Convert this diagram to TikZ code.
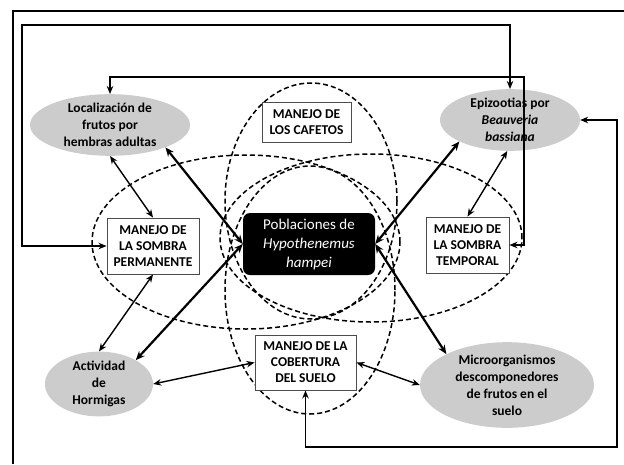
\documentclass[tikz,border=0pt]{standalone}
\usepackage{fontspec}
\setmainfont{Carlito}
\usetikzlibrary{shapes.geometric,arrows.meta}
\begin{document}
\begin{tikzpicture}[x=1pt,y=-1pt,
  dashring/.style={draw, dash pattern=on 5pt off 3pt, line width=1.5pt},
  factor/.style={ellipse, fill=black!20, inner sep=0pt, align=center, font=\fontsize{13.5}{17}\selectfont\bfseries},
  mgmt/.style={rectangle, draw=black!70, line width=0.9pt, fill=white, align=center, inner sep=0pt, font=\fontsize{13.5}{16}\selectfont\bfseries},
  linkthin/.style={{Stealth[length=8pt,width=6.5pt]}-{Stealth[length=8pt,width=6.5pt]}, line width=1.4pt},
  linkthick/.style={{Stealth[length=9pt,width=7.5pt]}-{Stealth[length=9pt,width=7.5pt]}, line width=2.2pt},
  frameline/.style={line width=2pt}
]
\useasboundingbox (0,0) rectangle (624,464);
\fill[white] (0,0) rectangle (624,464);
% frame (cropped)
\coordinate (f1) at (13,464);
\coordinate (f2) at (13,11);
\coordinate (f3) at (624,11);
\draw[frameline] (f1) -- (f2) -- (f3);

% dashed ellipses
\draw[dashring] (311,201) ellipse [x radius=86pt, y radius=118pt];
\draw[dashring] (310,290) ellipse [x radius=85pt, y radius=124pt];
\draw[dashring] (246,242) ellipse [x radius=154pt, y radius=87pt];
\draw[dashring] (371,238) ellipse [x radius=151pt, y radius=84pt];

% factor ellipses
\node[factor, minimum width=160pt, minimum height=60pt] (loc) at (110,125) {Localización de\\frutos por\\hembras adultas};
\node[factor, minimum width=140pt, minimum height=56pt] (epi) at (510,120) {Epizootias por\\\textit{Beauveria}\\\textit{bassiana}};
\node[factor, minimum width=108pt, minimum height=64pt] (act) at (99,384) {Actividad\\de\\Hormigas};
\node[factor, minimum width=174pt, minimum height=82pt] (mic) at (507,385) {Microorganismos\\descomponedores\\de frutos en el\\suelo};

% management boxes
\node[mgmt, minimum width=89pt, minimum height=40pt] (caf) at (306.5,122) {MANEJO DE\\LOS CAFETOS};
\node[mgmt, minimum width=92pt, minimum height=56pt] (sp) at (153,246) {MANEJO DE\\LA SOMBRA\\PERMANENTE};
\node[mgmt, minimum width=83pt, minimum height=56pt] (st) at (467.5,245) {MANEJO DE\\LA SOMBRA\\TEMPORAL};
\node[mgmt, minimum width=101pt, minimum height=55pt] (cob) at (305.5,362.5) {MANEJO DE LA\\COBERTURA\\DEL SUELO};

% central population box
\node[rectangle, rounded corners=7pt, fill=black, text=white, align=center, inner sep=0pt,
  minimum width=132pt, minimum height=62pt, font=\fontsize{15}{19}\selectfont] (pob) at (309,244)
  {Poblaciones de\\\textit{Hypothenemus}\\\textit{hampei}};

% thick links to population box
\draw[linkthick] (loc.-22) -- (pob.west);
\draw[linkthick] (act.33) -- (pob.west);
\draw[linkthick] (epi.-157) -- (pob.east);
\draw[linkthick] (mic.153) -- (pob.east);

% thin links
\draw[linkthin] (loc.south) -- (sp.north);
\draw[linkthin] (epi.-95) -- (st.north);
\draw[linkthin] (sp.south) -- (act.north);
\draw[linkthin] (act.east) -- (cob.west);
\draw[linkthin] (cob.east) -- (mic.west);

% elbow links
\coordinate (c1) at (22,25);
\coordinate (c2) at (524,77);
\coordinate (c3) at (617,447);
\draw[linkthin] (epi.north) |- (c1) |- (sp.west);
\draw[linkthin] (loc.north) |- (c2) |- (st.east);
\draw[linkthin] (cob.south) |- (c3) |- (epi.east);
\end{tikzpicture}
\end{document}
